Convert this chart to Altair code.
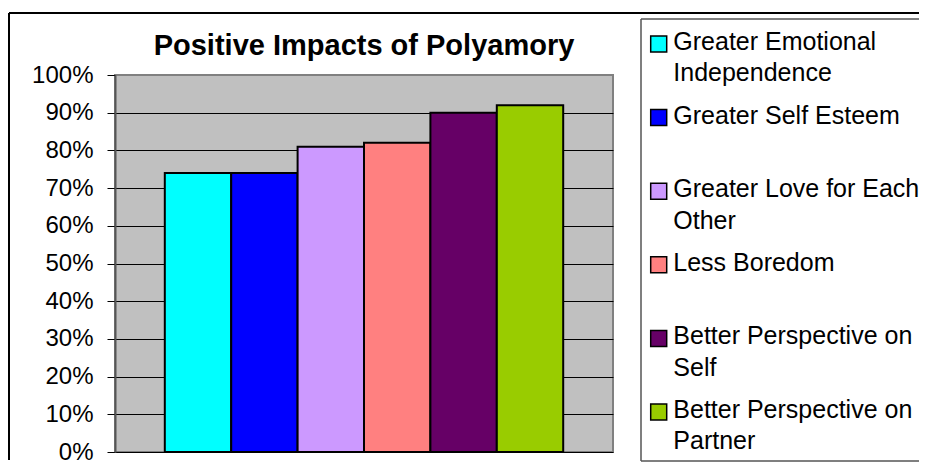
import altair as alt
import pandas as pd

FONT = "Liberation Sans"

# ---- data ----
categories = [
    "Greater Emotional Independence",
    "Greater Self Esteem",
    "Greater Love for Each Other",
    "Less Boredom",
    "Better Perspective on Self",
    "Better Perspective on Partner",
]
legend_labels = [
    "Greater Emotional\nIndependence",
    "Greater Self Esteem",
    "Greater Love for Each\nOther",
    "Less Boredom",
    "Better Perspective on\nSelf",
    "Better Perspective on\nPartner",
]
values = [0.74, 0.74, 0.81, 0.82, 0.90, 0.92]
colors = ["#00FFFF", "#0000FF", "#CC99FF", "#FF8080", "#660066", "#99CC00"]
y_ticks = [0, 0.1, 0.2, 0.3, 0.4, 0.5, 0.6, 0.7, 0.8, 0.9, 1.0]
title_text = "Positive Impacts of Polyamory"

df = pd.DataFrame({
    "category": categories,
    "value": values,
    "label": legend_labels,
    "order": list(range(len(categories))),
})
one = pd.DataFrame({"a": [0]})

color_scale = alt.Scale(domain=categories, range=colors)

# ---- bars ----
bars = alt.Chart(df).mark_bar(stroke="black", strokeWidth=2).encode(
    x=alt.X("category:N", sort=categories, axis=None,
            scale=alt.Scale(paddingInner=0, paddingOuter=0.75)),
    y=alt.Y("value:Q", scale=alt.Scale(domain=[0, 1], nice=False),
            axis=alt.Axis(values=y_ticks, format=".0%", title=None,
                          labelFont=FONT, labelFontSize=24, labelColor="black",
                          labelPadding=14, tickSize=8, tickColor="black", tickWidth=1,
                          domainColor="#555555", domainWidth=2,
                          grid=True, gridWidth=1,
                          gridColor={"condition": {"test": "datum.value >= 1", "value": "#808080"},
                                     "value": "black"})),
    color=alt.Color("category:N", scale=color_scale, legend=None),
)

# ---- outer chart frame (top and left edges) ----
def hrule(x1, x2, y, color, width):
    return alt.Chart(one).mark_rule(color=color, strokeWidth=width).encode(
        x=alt.value(x1), x2=alt.value(x2), y=alt.value(y))

def vrule(x, y1, y2, color, width):
    return alt.Chart(one).mark_rule(color=color, strokeWidth=width).encode(
        x=alt.value(x), y=alt.value(y1), y2=alt.value(y2))

frame_top = hrule(-106, 804, -62, "black", 2)
frame_left = vrule(-106, -62, 385, "black", 2)

# ---- legend box (right edge falls outside the picture) ----
box_top = hrule(526, 804, -56, "#555555", 1.5)
box_left = vrule(526, -56, 386, "#555555", 1.5)
box_bottom = hrule(526, 804, 386, "#555555", 1.5)

leg_y = alt.Y("order:Q", axis=None,
              scale=alt.Scale(domain=[0.3397, 5.462], reverse=True, nice=False, zero=False))

swatches = alt.Chart(df).mark_square(size=256, stroke="black", strokeWidth=1.5,
                                     opacity=1, yOffset=-6).encode(
    x=alt.value(543.7), y=leg_y,
    color=alt.Color("category:N", scale=color_scale, legend=None),
)
labels = alt.Chart(df).mark_text(align="left", baseline="alphabetic", lineBreak="\n",
                                 lineHeight=31.5, font=FONT, fontSize=25,
                                 color="black").encode(
    x=alt.value(558.3), y=leg_y, text="label:N",
)

chart = alt.layer(
    bars, frame_top, frame_left, box_top, box_left, box_bottom, swatches, labels
).resolve_scale(y="independent").properties(
    width=498, height=377,
    title=alt.TitleParams(title_text, font=FONT, fontSize=29, fontWeight="bold",
                          color="black", anchor="middle", frame="group",
                          offset=0, baseline="alphabetic", dy=72),
    view=alt.ViewBackground(fill="#C0C0C0", stroke="#808080", strokeWidth=2),
    padding={"left": 0, "top": 4, "right": 0, "bottom": 0},
    background="white",
)

chart.save("out.html", embed_options={"renderer": "svg", "actions": False})
